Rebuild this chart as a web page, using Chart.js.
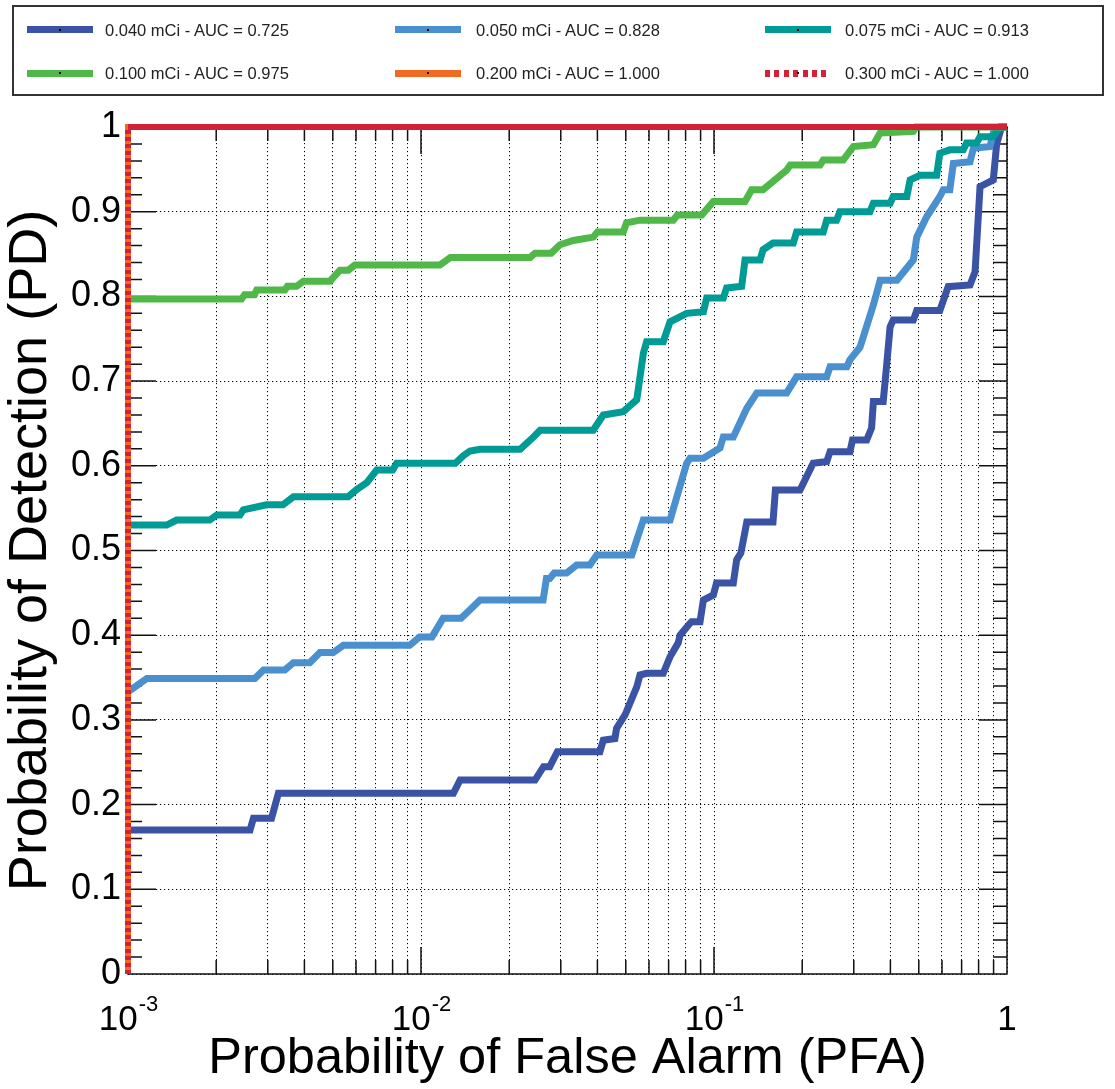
<!DOCTYPE html>
<html><head><meta charset="utf-8">
<script src="https://cdn.jsdelivr.net/npm/chart.js@4.4.1/dist/chart.umd.min.js"></script>
<style>
html,body{margin:0;padding:0;background:#fff;}
#wrap{position:relative;width:1115px;height:1089px;overflow:hidden;}
#c{position:absolute;left:0;top:0;}
#legendBox{position:absolute;left:12px;top:5px;width:1092px;height:91px;border:2px solid #333;box-sizing:border-box;}
.sw{position:absolute;height:7px;width:66px;}
.dot{position:absolute;left:32px;top:2.5px;width:2px;height:2px;background:#000;}
.lt{position:absolute;font-family:"Liberation Sans",Arial,sans-serif;font-size:16.5px;color:#222;white-space:nowrap;line-height:20px;}
</style></head>
<body><div id="wrap"><canvas id="c" width="1115" height="1089"></canvas><div id="legendBox"></div></div>
<script>
// ---- data ----
const seriesLabels = ['0.040 mCi - AUC = 0.725','0.050 mCi - AUC = 0.828','0.075 mCi - AUC = 0.913',
                      '0.100 mCi - AUC = 0.975','0.200 mCi - AUC = 1.000','0.300 mCi - AUC = 1.000'];
const seriesColors = ['#3a53a4','#4a90cf','#009b95','#4fb848','#f26a22','#d1223a'];

const pfa040 = [0.001,0.00261,0.00268,0.00309,0.00326,0.0129,0.0136,0.0245,0.0262,0.0275,0.0292,0.0408,0.0419,0.0459,0.0465,0.0497,0.0503,0.0545,0.0559,0.0589,0.0671,0.0708,0.0755,0.0766,0.0828,0.0839,0.0896,0.092,0.0995,0.102,0.1164,0.1195,0.1235,0.1294,0.159,0.162,0.1966,0.218,0.2425,0.249,0.291,0.297,0.332,0.345,0.350,0.378,0.389,0.399,0.409,0.479,0.492,0.590,0.630,0.748,0.778,0.809,0.898,0.922,0.958,1];
const pd040  = [0.170,0.170,0.184,0.184,0.2133,0.2133,0.229,0.229,0.2448,0.2448,0.2625,0.2625,0.276,0.278,0.29,0.306,0.31,0.339,0.353,0.355,0.355,0.3746,0.391,0.40,0.414,0.416,0.416,0.4415,0.4475,0.4616,0.4616,0.489,0.497,0.5336,0.5336,0.5714,0.5714,0.603,0.605,0.6166,0.6166,0.6305,0.6305,0.6446,0.676,0.676,0.7214,0.764,0.772,0.772,0.7834,0.7834,0.8115,0.8135,0.829,0.9295,0.9375,0.98,1.0,1.0];

const pfa050 = [0.001,0.00116,0.00271,0.0029,0.00343,0.00367,0.00417,0.00452,0.00502,0.00543,0.00915,0.0099,0.0109,0.0119,0.0137,0.0147,0.0159,0.0261,0.0268,0.0275,0.0285,0.0314,0.034,0.0377,0.0398,0.0524,0.0574,0.0708,0.0807,0.0828,0.092,0.1048,0.1076,0.1164,0.1294,0.140,0.177,0.1914,0.2425,0.249,0.284,0.291,0.315,0.35,0.369,0.421,0.479,0.492,0.532,0.590,0.606,0.638,0.656,0.748,0.768,0.875,0.898,0.958,1];
const pd050  = [0.333,0.349,0.349,0.359,0.359,0.3676,0.3676,0.3795,0.3795,0.388,0.388,0.398,0.398,0.420,0.420,0.430,0.4415,0.4415,0.467,0.467,0.4735,0.4735,0.483,0.483,0.4947,0.4947,0.536,0.536,0.603,0.609,0.609,0.621,0.634,0.634,0.668,0.686,0.686,0.705,0.705,0.717,0.717,0.725,0.74,0.79,0.819,0.819,0.843,0.87,0.894,0.918,0.926,0.926,0.957,0.959,0.975,0.977,0.993,1.0,1.0];

const pfa075 = [0.001,0.001355,0.001466,0.0019,0.00201,0.00241,0.002475,0.00297,0.00338,0.00367,0.00564,0.00603,0.00653,0.00706,0.0080,0.00826,0.0131,0.01395,0.0147,0.0159,0.0218,0.0242,0.0255,0.0387,0.0419,0.049,0.0545,0.0574,0.0589,0.0671,0.0708,0.0807,0.092,0.0944,0.1076,0.1104,0.1243,0.1276,0.1436,0.147,0.159,0.1865,0.1914,0.236,0.2425,0.262,0.269,0.3405,0.350,0.399,0.409,0.455,0.467,0.505,0.575,0.59,0.638,0.709,0.728,0.787,0.809,0.898,0.946,1];
const pd075  = [0.530,0.530,0.536,0.536,0.542,0.542,0.548,0.554,0.554,0.5635,0.5635,0.572,0.58,0.595,0.595,0.603,0.603,0.612,0.6175,0.6195,0.6195,0.634,0.642,0.642,0.660,0.664,0.678,0.733,0.7465,0.7465,0.770,0.780,0.782,0.798,0.798,0.810,0.812,0.843,0.843,0.855,0.863,0.863,0.876,0.876,0.890,0.890,0.900,0.900,0.910,0.910,0.918,0.918,0.9375,0.943,0.943,0.969,0.973,0.973,0.981,0.981,0.9885,0.9885,1.0,1.0];

const pfa100 = [0.001,0.00244,0.0025,0.0027,0.00275,0.00343,0.0035,0.00376,0.00397,0.00489,0.00529,0.00565,0.00595,0.0116,0.0126,0.0236,0.0245,0.0278,0.0298,0.0331,0.0387,0.040,0.049,0.0503,0.0559,0.0726,0.075,0.0908,0.0995,0.1276,0.1345,0.147,0.177,0.182,0.230,0.236,0.276,0.299,0.350,0.369,0.479,0.49,1];
const pd100  = [0.797,0.797,0.802,0.802,0.8076,0.8076,0.812,0.812,0.818,0.818,0.831,0.831,0.837,0.837,0.846,0.846,0.851,0.851,0.861,0.866,0.870,0.876,0.876,0.887,0.890,0.890,0.896,0.896,0.912,0.912,0.926,0.926,0.949,0.955,0.955,0.961,0.961,0.977,0.979,0.993,0.995,1.0,1.0];

const pfa200 = [0.001,0.001,1];
const pd200  = [0,1,1];
const pfa300 = [0.001,0.001,1];
const pd300  = [0,1,1];

const seriesPfa = [pfa040,pfa050,pfa075,pfa100,pfa200,pfa300];
const seriesPd  = [pd040,pd050,pd075,pd100,pd200,pd300];

// axis ticks
const xDecades = [0.001,0.01,0.1];
const xLabelValues = [0.001,0.01,0.1,1];
const xLabelBase = ['10','10','10','1'];
const xLabelExp  = ['-3','-2','-1',''];
const yTickValues = [0,0.1,0.2,0.3,0.4,0.5,0.6,0.7,0.8,0.9,1];
const yTickLabels = ['0','0.1','0.2','0.3','0.4','0.5','0.6','0.7','0.8','0.9','1'];

const xGridValues = [];
xDecades.forEach(d => { for (let m = 1; m <= 9; m++) xGridValues.push(Number((d*m).toPrecision(3))); });
xGridValues.push(1);

const FONT = '"Liberation Sans", Arial, sans-serif';

// ---- datasets ----
const datasets = seriesLabels.map((lab, i) => {
  const ds = {
    label: lab,
    data: seriesPfa[i].map((x, k) => ({x: x, y: seriesPd[i][k]})),
    borderColor: seriesColors[i],
    backgroundColor: seriesColors[i],
    borderWidth: i >= 4 ? 6 : 7,
    pointRadius: 0,
    fill: false,
    tension: 0,
    borderJoinStyle: 'miter',
    borderCapStyle: 'butt',
    order: 6 - i,
    clip: false
  };
  if (i === 5) {
    ds.segment = { borderDash: ctx => (ctx.p0.parsed.x === ctx.p1.parsed.x ? [4, 3] : undefined) };
  }
  return ds;
});

// ---- decorations: frame, inward ticks, x labels with exponent ----
const axisDeco = {
  id: 'axisDeco',
  beforeDatasetsDraw(chart) {
    const {ctx, chartArea: a, scales: {x, y}} = chart;
    ctx.save();
    ctx.strokeStyle = '#111';
    ctx.lineWidth = 1.5;
    ctx.strokeRect(a.left, a.top, a.right - a.left, a.bottom - a.top);
    ctx.beginPath();
    x.ticks.forEach(t => {
      const px = x.getPixelForValue(t.value);
      if (px <= a.left + 1 || px >= a.right - 1) return;
      const len = t.major ? 27 : 14;
      ctx.moveTo(px, a.bottom); ctx.lineTo(px, a.bottom - len);
      ctx.moveTo(px, a.top); ctx.lineTo(px, a.top + len);
    });
    for (let i = 1; i < 50; i++) {
      const py = y.getPixelForValue(i / 50);
      const len = (i % 5 === 0) ? 28 : 14;
      ctx.moveTo(a.left, py); ctx.lineTo(a.left + len, py);
      ctx.moveTo(a.right, py); ctx.lineTo(a.right - len, py);
    }
    ctx.stroke();
    ctx.restore();
  },
  afterDraw(chart) {
    const {ctx, scales: {x}} = chart;
    ctx.save();
    ctx.fillStyle = '#000';
    ctx.textBaseline = 'alphabetic';
    ctx.textAlign = 'left';
    xLabelValues.forEach((v, i) => {
      const px = x.getPixelForValue(v);
      ctx.font = '35px ' + FONT;
      const wb = ctx.measureText(xLabelBase[i]).width;
      ctx.font = '22px ' + FONT;
      const we = xLabelExp[i] ? ctx.measureText(xLabelExp[i]).width : 0;
      const x0 = px - (wb + we) / 2;
      ctx.font = '35px ' + FONT;
      ctx.fillText(xLabelBase[i], x0, 1030);
      if (xLabelExp[i]) {
        ctx.font = '22px ' + FONT;
        ctx.fillText(xLabelExp[i], x0 + wb + 1, 1011);
      }
    });
    ctx.restore();
  }
};

const gridOpts = {color: '#000', lineWidth: 1, drawTicks: false};
const borderOpts = {display: false, dash: [1.2, 2.8]};

const chart = new Chart(document.getElementById('c'), {
  type: 'line',
  data: {datasets: datasets},
  plugins: [axisDeco],
  options: {
    responsive: false,
    animation: false,
    devicePixelRatio: 1,
    parsing: true,
    layout: {padding: {top: 127, right: 108, bottom: 0, left: 0}},
    plugins: {legend: {display: false}, tooltip: {enabled: false}},
    scales: {
      x: {
        type: 'logarithmic', position: 'bottom', min: 0.001, max: 1,
        afterBuildTicks: s => { s.ticks = xGridValues.map(v => ({value: v, major: xLabelValues.includes(v)})); },
        afterFit: s => { s.height = 115; },
        ticks: {display: false},
        grid: gridOpts,
        border: borderOpts,
        title: {display: true, text: 'Probability of False Alarm (PFA)', color: '#000',
                font: {family: FONT, size: 50.5, lineHeight: 1}, padding: {top: 0, bottom: 4.3}}
      },
      y: {
        type: 'linear', position: 'left', min: 0, max: 1,
        afterBuildTicks: s => { s.ticks = yTickValues.map(v => ({value: v})); },
        afterFit: s => { s.width = 128; },
        ticks: {color: '#000', font: {family: FONT, size: 36}, padding: 7,
                callback: (v, i) => yTickLabels[i]},
        grid: gridOpts,
        border: borderOpts,
        title: {display: true, text: 'Probability of Detection (PD)', color: '#000',
                font: {family: FONT, size: 54, lineHeight: 1}, padding: {top: 4.3, bottom: 0}}
      }
    }
  }
});

// ---- HTML legend built from the chart datasets ----
const legCols = [{sw: 27, tx: 105}, {sw: 395, tx: 476}, {sw: 765, tx: 845}];
const legRows = [29.5, 73];
const wrap = document.getElementById('wrap');
chart.data.datasets.forEach((ds, i) => {
  const col = legCols[i % 3], row = legRows[Math.floor(i / 3)];
  const sw = document.createElement('div');
  sw.className = 'sw';
  sw.style.left = col.sw + 'px';
  sw.style.top = (row - 3.5) + 'px';
  if (i === 5) {
    sw.style.background = 'repeating-linear-gradient(90deg,' + ds.borderColor + ' 0 5px, transparent 5px 9.4px)';
  } else {
    sw.style.background = ds.borderColor;
  }
  const dot = document.createElement('div');
  dot.className = 'dot';
  sw.appendChild(dot);
  wrap.appendChild(sw);
  const tx = document.createElement('div');
  tx.className = 'lt';
  tx.textContent = ds.label;
  tx.style.left = col.tx + 'px';
  tx.style.top = (row - 10) + 'px';
  wrap.appendChild(tx);
});
</script></body></html>
